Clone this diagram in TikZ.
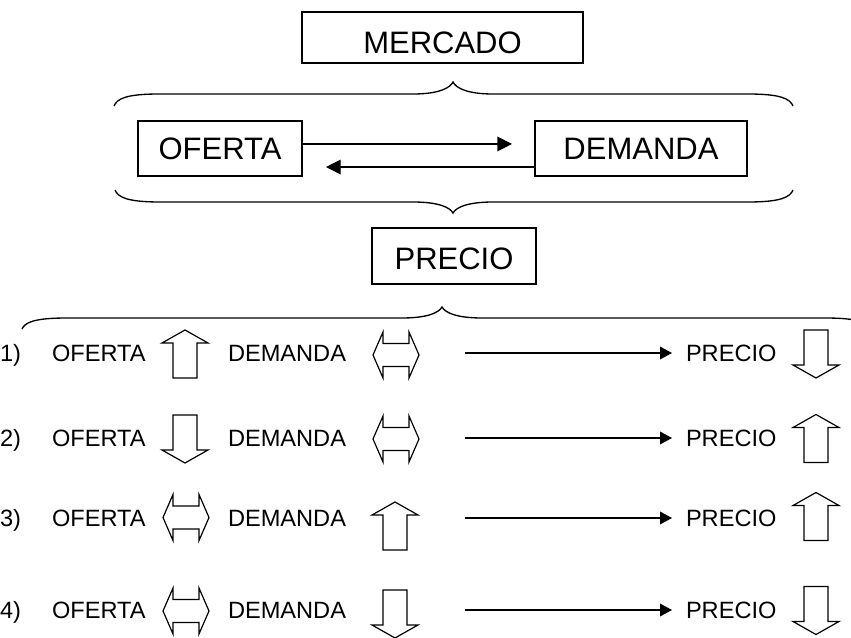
\documentclass[tikz,border=0pt]{standalone}
\usepackage{fontspec}
\setmainfont{Liberation Sans}
\usetikzlibrary{arrows.meta}
\tikzset{
  box/.style={draw, line width=1.1pt, inner sep=0pt, outer sep=0pt,
    font=\fontsize{23.25pt}{28pt}\selectfont, text height=16.6pt, text depth=0pt},
  rowtext/.style={inner sep=0pt, outer sep=0pt, anchor=west,
    font=\fontsize{17.7pt}{21pt}\selectfont, text height=12.7pt, text depth=0pt},
  link/.style={line width=1pt, -{Triangle[length=11pt,width=11pt]}},
  rowlink/.style={line width=1pt, -{Triangle[length=9pt,width=9.5pt]}},
  bracestyle/.style={line width=1pt},
  symstyle/.style={line width=0.9pt, line join=miter},
  uparr/.pic={\draw[symstyle] (0,-24) -- (23,-11) -- (12,-11) -- (12,24) -- (-12,24) -- (-12,-11) -- (-23,-11) -- cycle;},
  downarr/.pic={\draw[symstyle] (0,24) -- (23,11) -- (12,11) -- (12,-24) -- (-12,-24) -- (-12,11) -- (-23,11) -- cycle;},
  dblarr/.pic={\draw[symstyle] (-23,0) -- (-13,-23) -- (-13,-11.5) -- (13,-11.5) -- (13,-23) -- (23,0) -- (13,23) -- (13,11.5) -- (-13,11.5) -- (-13,23) -- cycle;}
}
\newcommand\mybrace[6]{% x1 x2 xtip yend yline ytip
  \draw[bracestyle] (#1,#4) .. controls ({#1+3},{#5+0.4*(#4-#5)}) and ({#1+12},#5) .. ({#1+45},#5)
   -- ({#3-40},#5) .. controls ({#3-14},#5) and ({#3-3},{#5+0.5*(#6-#5)}) .. (#3,#6)
   .. controls ({#3+3},{#5+0.5*(#6-#5)}) and ({#3+14},#5) .. ({#3+40},#5)
   -- ({#2-45},#5) .. controls ({#2-12},#5) and ({#2-3},{#5+0.4*(#4-#5)}) .. (#2,#4);}
\begin{document}
\begin{tikzpicture}[x=0.75pt, y=-0.75pt]
\useasboundingbox (0,0) rectangle (851,638);
\clip (0,0) rectangle (851,638);

% top part
\node[box, minimum width=210.75pt, minimum height=38.25pt] (mercado) at (442.5,37.5) {\raisebox{-3.4pt}{MERCADO}};
\node[box, minimum width=123pt, minimum height=41.25pt] (oferta) at (220,148.5) {OFERTA};
\node[box, minimum width=159pt, minimum height=41.25pt] (demanda) at (641,148.5) {DEMANDA};
\node[box, minimum width=123pt, minimum height=42pt] (precio) at (454,256) {\raisebox{-1.5pt}{PRECIO}};

\draw[link, shorten >=17.25pt] ([yshift=3.4pt]oferta.east) -- ([yshift=3.4pt]demanda.west);
\draw[link, shorten >=18pt] ([yshift=-13.9pt]demanda.west) -- ([yshift=-13.9pt]oferta.east);

% braces
\mybrace{114}{793}{453}{106}{94}{82}
\mybrace{115}{793}{453}{190}{202}{213}
\mybrace{22}{870}{442}{329}{318}{307}

% row 1
\node[rowtext] (n1) at (0,353) {1)};
\node[rowtext] (o1) at (52,353) {OFERTA};
\node[rowtext] (d1) at (228,353) {DEMANDA};
\node[rowtext] (p1) at (686,353) {PRECIO};
\coordinate (s1) at (465,353);
\draw[rowlink, shorten >=10.5pt] (s1) -- (p1);
\pic at (185,354) {uparr};
\pic at (396,355) {dblarr};
\pic at (816,354) {downarr};

% row 2
\node[rowtext] (n2) at (0,438) {2)};
\node[rowtext] (o2) at (52,438) {OFERTA};
\node[rowtext] (d2) at (228,438) {DEMANDA};
\node[rowtext] (p2) at (686,438) {PRECIO};
\coordinate (s2) at (465,438);
\draw[rowlink, shorten >=10.5pt] (s2) -- (p2);
\pic at (185,439) {downarr};
\pic at (396,439) {dblarr};
\pic at (816,438.5) {uparr};

% row 3
\node[rowtext] (n3) at (0,518) {3)};
\node[rowtext] (o3) at (52,518) {OFERTA};
\node[rowtext] (d3) at (228,518) {DEMANDA};
\node[rowtext] (p3) at (686,518) {PRECIO};
\coordinate (s3) at (465,518);
\draw[rowlink, shorten >=10.5pt] (s3) -- (p3);
\pic at (186,517.5) {dblarr};
\pic at (395,526) {uparr};
\pic at (816,516.5) {uparr};

% row 4
\node[rowtext] (n4) at (0,610) {4)};
\node[rowtext] (o4) at (52,610) {OFERTA};
\node[rowtext] (d4) at (228,610) {DEMANDA};
\node[rowtext] (p4) at (686,610) {PRECIO};
\coordinate (s4) at (465,610);
\draw[rowlink, shorten >=10.5pt] (s4) -- (p4);
\pic at (186,611) {dblarr};
\pic at (395,614) {downarr};
\pic at (816,610.5) {downarr};
\end{tikzpicture}
\end{document}
